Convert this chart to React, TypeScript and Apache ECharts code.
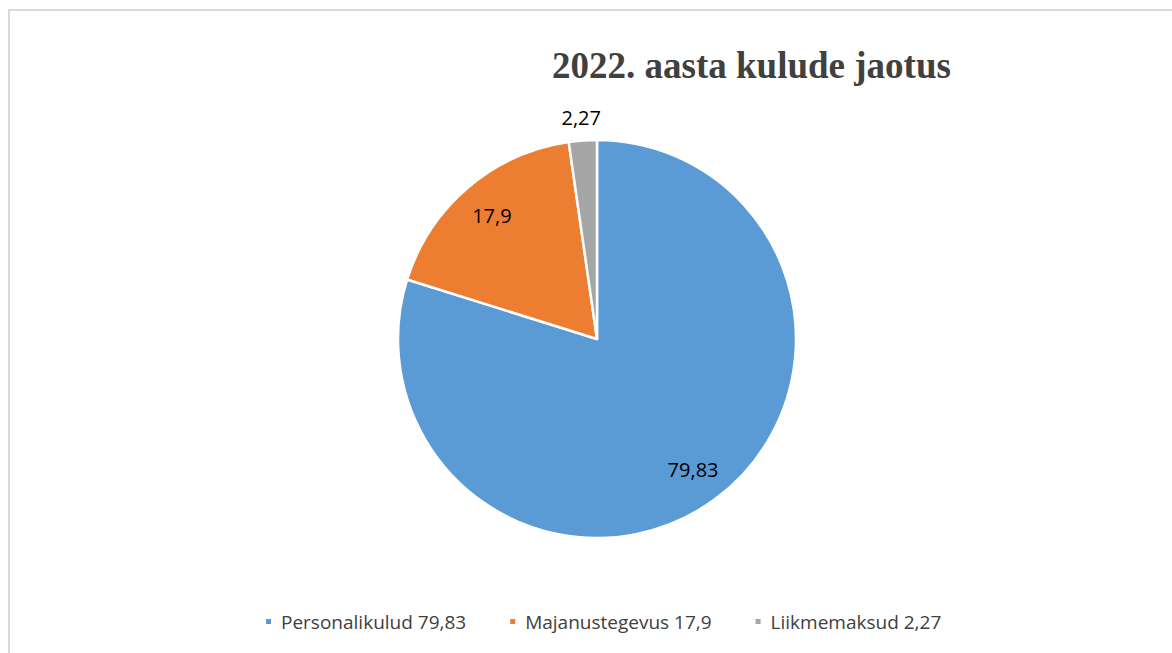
import React, { useEffect, useRef } from "react";
import * as echarts from "echarts";

const titleText = "2022. aasta kulude jaotus";
const categories = ["Personalikulud", "Majanustegevus", "Liikmemaksud"];
const values = [79.83, 17.9, 2.27];
const valueLabels = ["79,83", "17,9", "2,27"];
const colors = ["#5B9BD5", "#ED7D31", "#A5A5A5"];

export default function App() {
  const ref = useRef<HTMLDivElement>(null);
  useEffect(() => {
    if (!ref.current) return;
    const chart = echarts.init(ref.current, null, { renderer: "svg" });
    const R = 199;
    const data = categories.map((n, i) => ({ name: n, value: values[i], itemStyle: { color: colors[i] } }));
    const labelFont = { fontFamily: "Open Sans", fontSize: 20, color: "#000" };
    chart.setOption({
      animation: false,
      title: {
        text: titleText,
        left: 547,
        top: 42,
        textStyle: { fontFamily: "Liberation Serif", fontWeight: "bold", fontSize: 37, color: "#404040" },
      },
      legend: {
        bottom: 17,
        left: 259,
        icon: "rect",
        itemWidth: 7,
        itemHeight: 7,
        itemGap: 42,
        data: categories,
        formatter: (name: string) => name + " " + valueLabels[categories.indexOf(name)],
        textStyle: { fontFamily: "Open Sans", fontSize: 19, color: "#404040", padding: [0, 0, 0, 4] },
      },
      series: [
        {
          type: "pie",
          center: [597, 339],
          radius: [0, R],
          startAngle: 90,
          clockwise: true,
          data,
          label: { show: false },
          labelLine: { show: false },
          itemStyle: { borderColor: "#fff", borderWidth: 2.5 },
          emphasis: { disabled: true },
        },
        {
          type: "pie",
          center: [597, 339],
          radius: [0, R * 1.6],
          startAngle: 90,
          silent: true,
          data: data.map((d, i) => ({
            ...d,
            itemStyle: { color: "transparent" },
            label: { show: i < 2 },
          })),
          label: { position: "inside", formatter: (p: any) => valueLabels[p.dataIndex], ...labelFont },
          labelLine: { show: false },
          emphasis: { disabled: true },
        },
        {
          type: "pie",
          center: [597, 339],
          radius: [R, R * 1.2],
          startAngle: 90,
          silent: true,
          data: data.map((d, i) => ({
            ...d,
            itemStyle: { color: "transparent" },
            label: { show: i === 2 },
          })),
          label: { position: "inside", formatter: (p: any) => valueLabels[p.dataIndex], ...labelFont },
          labelLine: { show: false },
          emphasis: { disabled: true },
        },
      ],
    });
    return () => chart.dispose();
  }, []);
  return (
    <div style={{ position: "fixed", left: 0, top: 0, width: 1172, height: 653, overflow: "hidden", background: "#fff" }}>
      <div style={{ position: "absolute", left: 8, top: 9, width: 1200, height: 700, border: "2px solid #d9d9d9" }} />
      <div ref={ref} style={{ position: "absolute", left: 0, top: 0, width: 1172, height: 653 }} />
    </div>
  );
}
